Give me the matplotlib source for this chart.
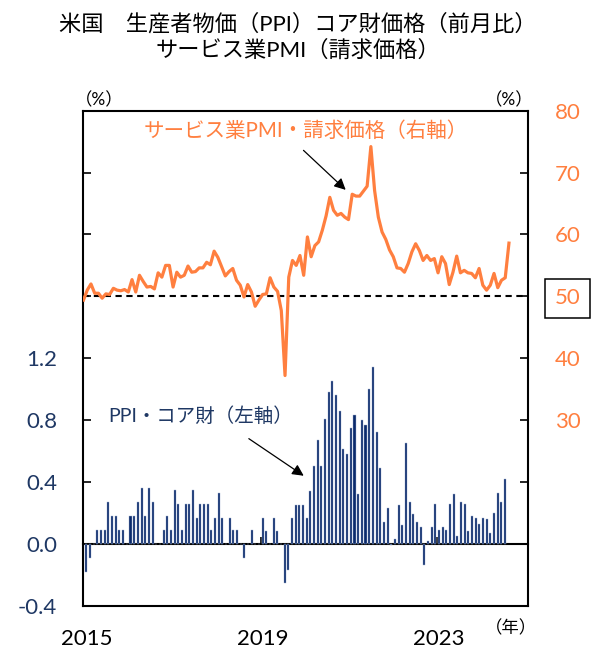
import matplotlib
matplotlib.use("Agg")
import matplotlib.pyplot as plt
import numpy as np

plt.rcParams['font.family'] = ['Lato', 'Noto Sans CJK JP', 'DejaVu Sans']

# ---- data ----
ppi_core = [
    -0.18, -0.09, 0.00, 0.09, 0.09, 0.09, 0.27, 0.18, 0.18, 0.09,
    0.09, 0.00, 0.18, 0.18, 0.27, 0.36, 0.18, 0.36, 0.27, 0.00,
    0.00, 0.09, 0.18, 0.09, 0.35, 0.26, 0.09, 0.26, 0.26, 0.35,
    0.17, 0.26, 0.26, 0.26, 0.09, 0.17, 0.33, 0.17, 0.00, 0.17,
    0.09, 0.09, 0.00, -0.09, 0.00, 0.09, 0.00, 0.00, 0.17, 0.08,
    0.00, 0.17, 0.08, 0.00, -0.25, -0.17, 0.17, 0.25, 0.25, 0.25,
    0.17, 0.34, 0.50, 0.67, 0.50, 0.81, 0.98, 1.05, 0.96, 0.86,
    0.61, 0.58, 0.75, 0.83, 0.32, 0.80, 0.77, 1.00, 1.14, 0.72,
    0.49, 0.14, 0.23, -0.01, 0.03, 0.25, 0.12, 0.65, 0.27, 0.19,
    0.14, 0.11, -0.14, 0.02, 0.11, 0.26, 0.09, 0.11, 0.09, 0.26,
    0.32, 0.05, 0.27, 0.26, 0.08, 0.18, 0.17, 0.13, 0.17, 0.16,
    0.07, 0.20, 0.33, 0.27, 0.42,
]
pmi_prices = [
    49.4, 51.0, 52.0, 50.5, 50.5, 49.7, 50.4, 50.3, 51.3, 51.0,
    50.9, 51.1, 50.7, 52.7, 50.7, 53.4, 52.4, 51.5, 51.6, 51.2,
    53.8, 53.1, 55.0, 55.0, 51.5, 53.9, 53.1, 53.4, 54.9, 53.9,
    54.0, 54.6, 54.6, 55.5, 55.1, 57.3, 56.3, 54.8, 53.3, 54.0,
    54.5, 52.6, 51.8, 49.9, 51.9, 50.7, 48.4, 49.4, 50.3, 50.4,
    53.0, 51.5, 50.8, 47.7, 37.2, 53.1, 55.8, 55.0, 56.6, 53.4,
    59.6, 56.4, 58.2, 58.8, 60.7, 63.0, 66.0, 63.9, 63.1, 63.4,
    62.8, 62.4, 66.5, 66.2, 66.2, 67.0, 67.8, 74.2, 67.1, 62.8,
    60.4, 59.2, 57.5, 56.4, 54.6, 54.5, 53.9, 55.3, 57.2, 58.5,
    57.4, 55.8, 56.6, 55.8, 56.1, 53.8, 56.4, 55.3, 51.9, 53.9,
    56.5, 53.8, 54.2, 53.8, 53.7, 53.0, 54.5, 51.8, 51.0, 51.8,
    53.7, 51.4, 52.6, 53.0, 58.6,
]
year_labels = ['2015', '2019', '2023']
year_label_idx = [0, 48, 96]
left_ticks = [-0.4, 0.0, 0.4, 0.8, 1.2, 1.6, 2.0, 2.4, 2.8]
left_ticklabels = ['-0.4', '0.0', '0.4', '0.8', '1.2', '', '', '', '']
right_ticks = [0, 10, 20, 30, 40, 50, 60, 70, 80]
right_ticklabels = ['', '', '', '30', '40', '50', '60', '70', '80']

NAVY = '#1F3864'
ORANGE = '#FF7F3F'

fig = plt.figure(figsize=(5.96, 6.52), dpi=100)
rect = [0.1401, 0.0710, 0.7461, 0.7592]

# ---- bars (left axis) ----
ax = fig.add_axes(rect)
xb = np.arange(len(ppi_core))
ax.bar(xb, ppi_core, width=0.55, color='#0B2A6B', edgecolor='#9fb0d0', linewidth=0.3, zorder=2)
ax.set_xlim(-0.8, 120.3)
ax.set_ylim(-0.4, 2.8)
ax.set_yticks(left_ticks)
ax.set_yticklabels(left_ticklabels)
ax.tick_params(axis='y', direction='in', length=6, width=1.2, pad=19,
               labelsize=16, colors='black')
for lab in ax.get_yticklabels():
    lab.set_color(NAVY)
ax.set_xticks(year_label_idx)
ax.set_xticklabels(year_labels)
ax.tick_params(axis='x', length=0, pad=17, labelsize=16)
for s in ax.spines.values():
    s.set_linewidth(1.5)
    s.set_color('black')

# zero axis with year tick marks
zero_pos = (0 - (-0.4)) / (2.8 - (-0.4))
sec = ax.secondary_xaxis(zero_pos)
sec.set_xticks([47.5, 95.5])
sec.tick_params(direction='in', length=5, width=1.2, labelbottom=False, labeltop=False)
sec.spines['bottom'].set_linewidth(1.5)

# ---- line (right axis) ----
ax2 = fig.add_axes(rect)
ax2.patch.set_visible(False)
xl = np.arange(len(pmi_prices))
ax2.plot(xl, pmi_prices, color=ORANGE, lw=2.3, zorder=3, solid_joinstyle='round')
ax2.axhline(50, color='black', lw=1.5, ls=(0, (3, 2.2)), zorder=2)
ax2.set_xlim(0, 119.15)
ax2.set_ylim(0, 80)
ax2.xaxis.set_visible(False)
ax2.yaxis.tick_right()
ax2.set_yticks(right_ticks)
ax2.set_yticklabels(right_ticklabels)
ax2.tick_params(axis='y', direction='in', length=6, width=1.2, pad=19,
                labelsize=16, labelcolor=ORANGE)
for s in ax2.spines.values():
    s.set_visible(False)
for lab in ax2.get_yticklabels():
    if lab.get_text() == '50':
        lab.set_bbox(dict(boxstyle='square,pad=0.42', fc='none', ec='black', lw=1.1))

# ---- annotations ----
ax2.text(59.5, 76.7, 'サービス業PMI・請求価格（右軸）', color=ORANGE, fontsize=14.8,
         ha='center', va='center')
ax2.annotate('', xy=(70.8, 66.9), xytext=(58.4, 73.9),
             arrowprops=dict(arrowstyle='-|>', color='black', lw=0.9, mutation_scale=17))
ax.text(31.1, 0.83, 'PPI・コア財（左軸）', color=NAVY, fontsize=14,
        ha='center', va='center')
ax.annotate('', xy=(59.8, 0.43), xytext=(43.6, 0.69),
            arrowprops=dict(arrowstyle='-|>', color='black', lw=0.9, mutation_scale=17))

fig.text(99 / 596, 1 - 100 / 652, '（%）', fontsize=12.5, ha='center', va='center')
fig.text(509 / 596, 1 - 100 / 652, '（%）', fontsize=12.5, ha='center', va='center')
fig.text(511 / 596, 1 - 628 / 652, '（年）', fontsize=12.5, ha='center', va='center')

fig.text(0.5, 1 - 24 / 652, '米国　生産者物価（PPI）コア財価格（前月比）', fontsize=16,
         ha='center', va='center')
fig.text(0.5, 1 - 50 / 652, 'サービス業PMI（請求価格）', fontsize=16,
         ha='center', va='center')

fig.savefig('out.png', dpi=100)
